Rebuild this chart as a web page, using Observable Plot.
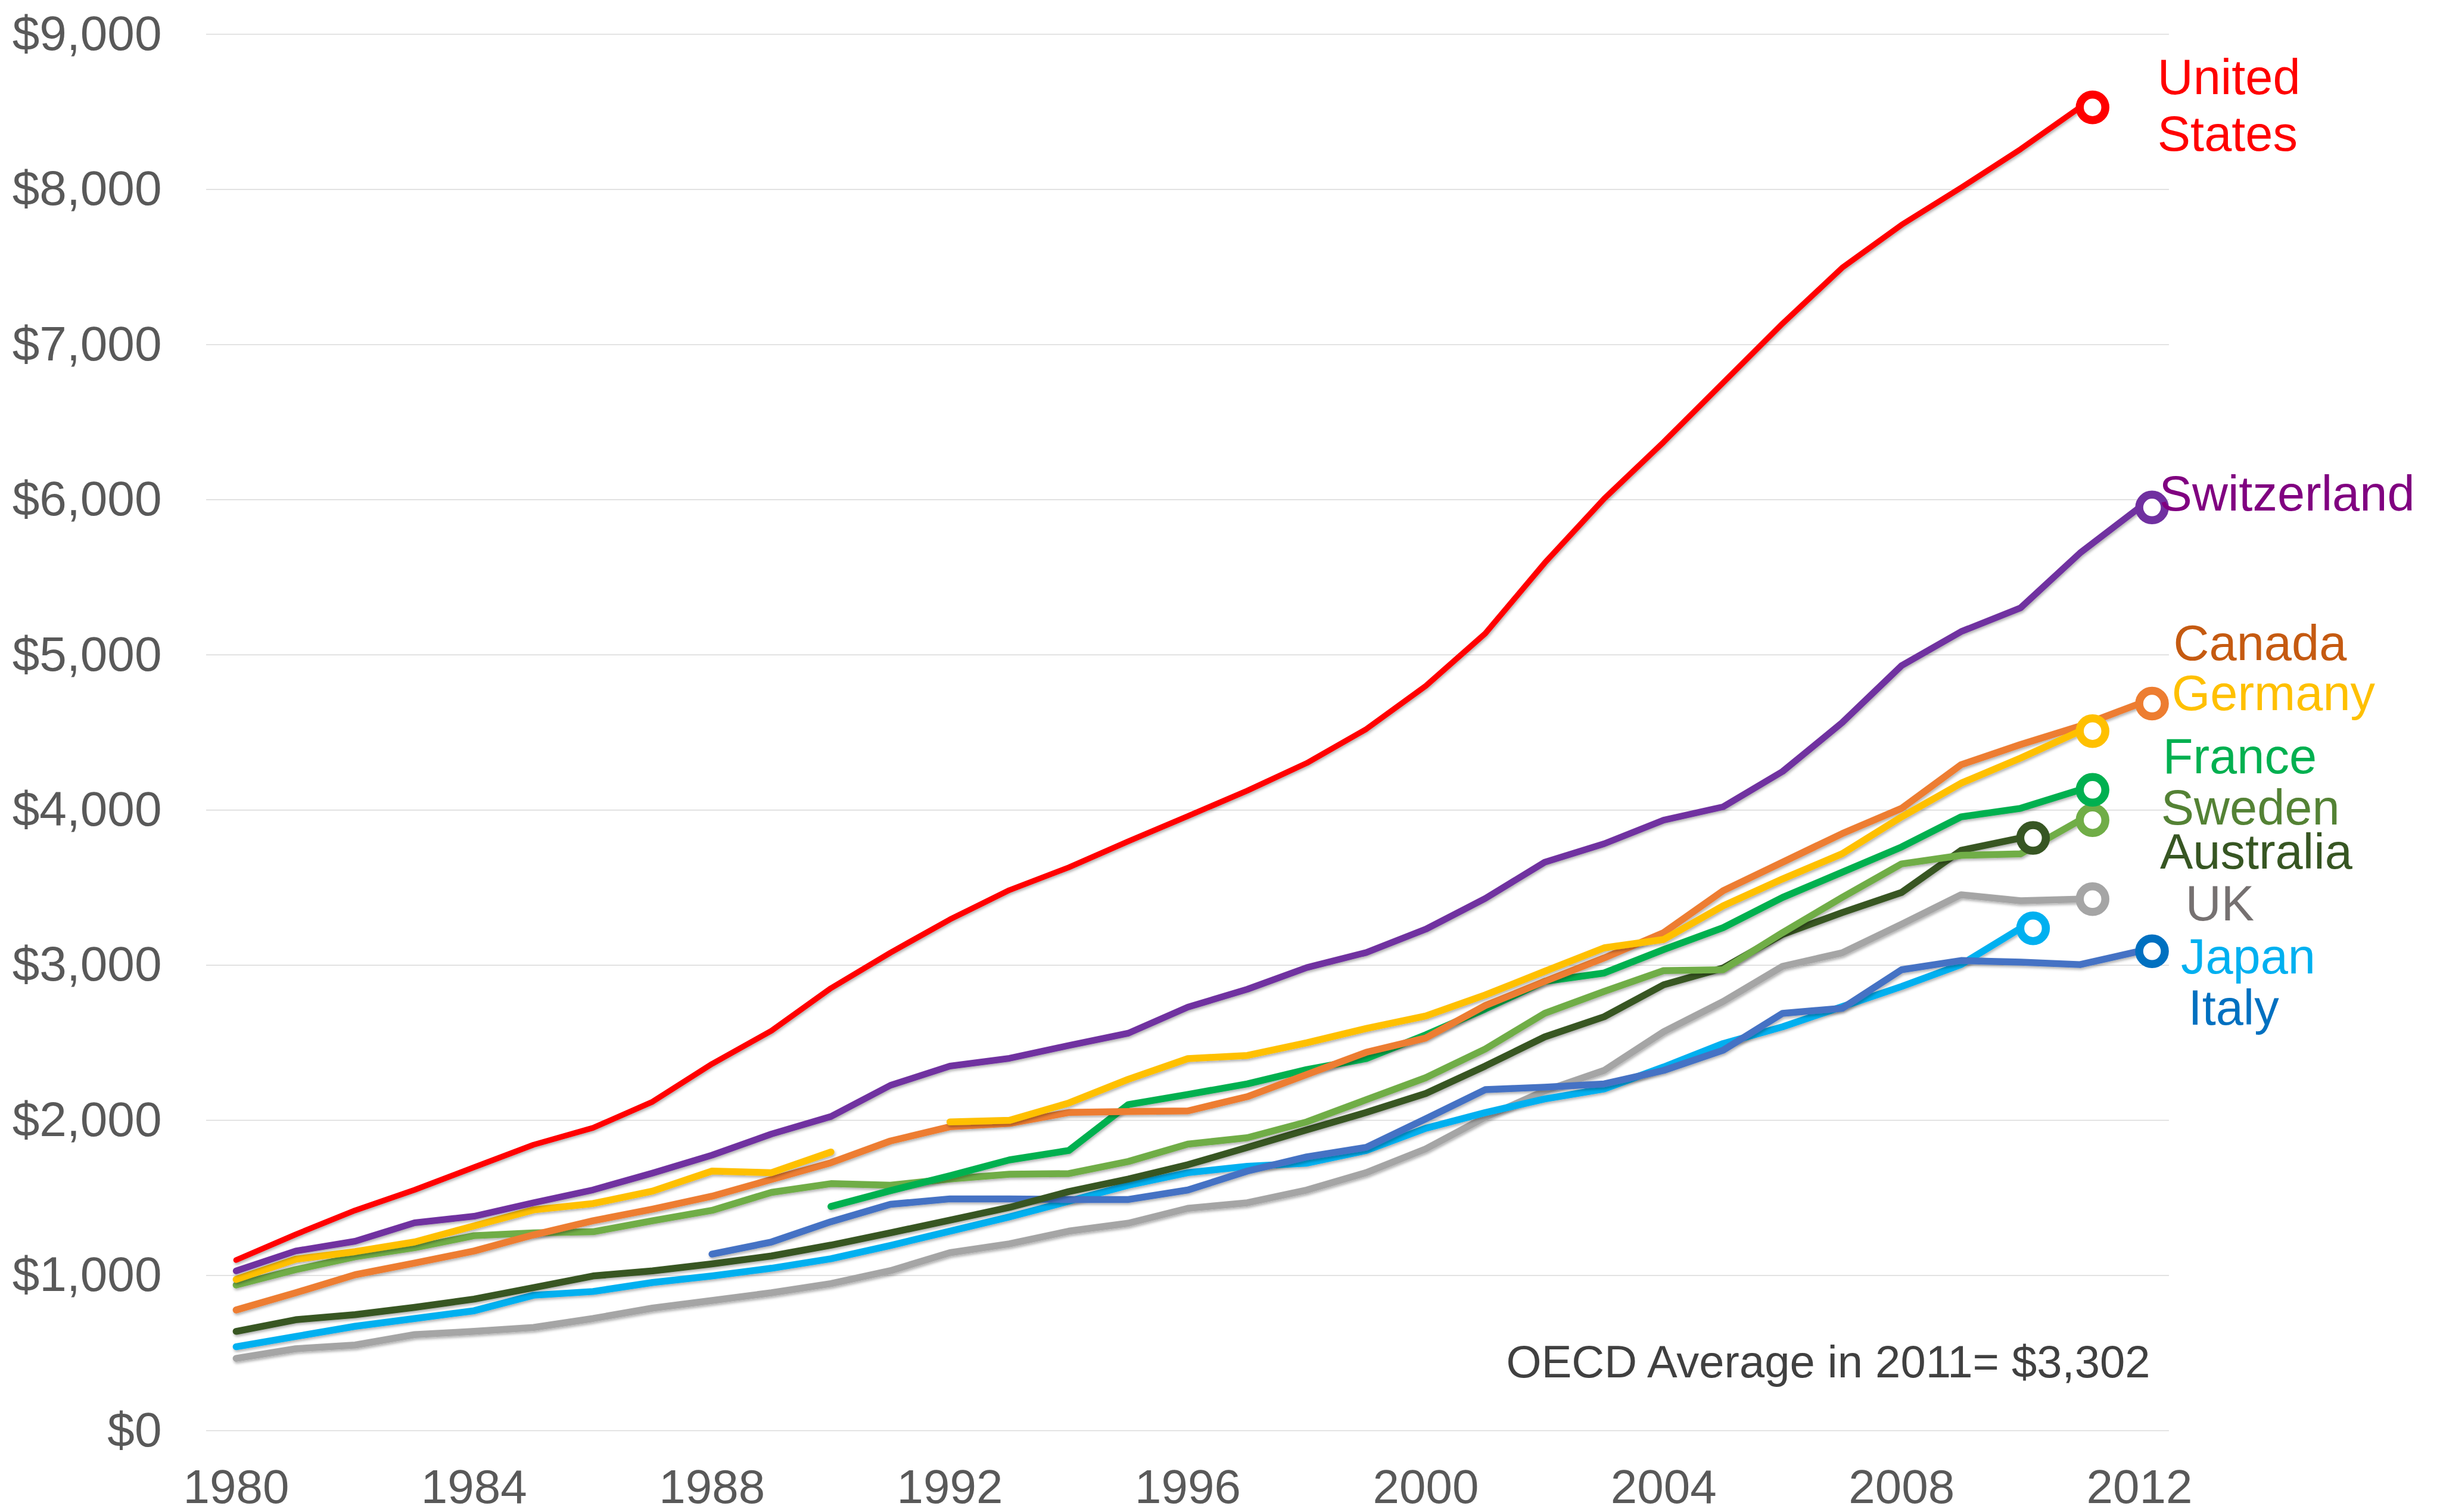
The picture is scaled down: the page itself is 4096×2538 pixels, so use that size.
<!DOCTYPE html>
<html>
<head>
<meta charset="utf-8">
<script src="https://cdn.jsdelivr.net/npm/d3@7"></script>
<script src="https://cdn.jsdelivr.net/npm/@observablehq/plot@0.6"></script>
<style>
html, body { margin: 0; padding: 0; background: #fff; }
svg { display: block; }
</style>
</head>
<body>
<div id="chart"></div>
<script>
// ---- Data (health spending per capita, US$) ----
const years = [1980,1981,1982,1983,1984,1985,1986,1987,1988,1989,
               1990,1991,1992,1993,1994,1995,1996,1997,1998,1999,
               2000,2001,2002,2003,2004,2005,2006,2007,2008,2009,
               2010,2011,2012];

const unitedStates = [1100,1265,1420,1552,1698,1843,1952,2120,2364,2578,
                      2852,3081,3295,3484,3631,3799,3961,4125,4303,4522,
                      4800,5138,5593,6007,6372,6754,7136,7495,7772,8011,
                      8259,8529,null];
const switzerland = [1030,1158,1221,1340,1382,1469,1552,1660,1776,1912,
                     2025,2226,2350,2400,2483,2562,2730,2845,2985,3082,
                     3232,3430,3664,3783,3935,4021,4249,4563,4931,5150,
                     5303,5657,5950];
const canada = [778,889,1005,1080,1158,1262,1353,1428,1511,1619,
                1727,1867,1959,1980,2051,2057,2061,2153,2296,2439,
                2531,2740,2896,3047,3210,3480,3664,3848,4011,4292,
                4422,4541,4686];
const germany = [975,1105,1154,1216,1320,1423,1464,1544,1673,1663,
                 1796,null,1990,2000,2112,2265,2398,2418,2500,2592,
                 2673,2808,2961,3112,3166,3383,3556,3718,3956,4173,
                 4335,4509,null];
const france = [null,null,null,null,null,null,null,null,null,null,
                1445,1547,1643,1745,1806,2102,2167,2235,2327,2398,
                2551,2718,2896,2950,3101,3242,3437,3599,3762,3956,
                4011,4130,null];
const sweden = [939,1038,1121,1179,1257,1275,1282,1353,1420,1536,
                1592,1582,1622,1653,1657,1735,1847,1888,1990,2133,
                2275,2460,2690,2831,2965,2971,3210,3437,3653,3708,
                3718,3935,null];
const australia = [640,715,748,795,848,922,997,1030,1075,1126,
                   1196,1275,1357,1439,1541,1622,1714,1826,1939,2051,
                   2173,2350,2538,2668,2874,2982,3199,3339,3469,3740,
                   3820,null,null];
const uk = [466,528,552,619,640,665,723,790,839,889,
            948,1031,1147,1204,1286,1337,1433,1469,1551,1663,
            1816,2020,2190,2322,2571,2766,2993,3080,3264,3454,
            3415,3426,null];
const japan = [541,607,673,723,773,873,897,955,997,1047,
               1108,1194,1286,1378,1479,1582,1663,1704,1724,1806,
               1949,2050,2138,2203,2344,2495,2603,2733,2863,3004,
               3238,null,null];
const italy = [null,null,null,null,null,null,null,null,1138,1216,
               1347,1459,1494,1494,1490,1490,1551,1673,1765,1826,
               2010,2198,2214,2235,2322,2452,2690,2722,2971,3030,
               3020,3004,3090];

const countries = ["United States","Switzerland","Canada","Germany","France",
                   "Sweden","Australia","UK","Japan","Italy"];
const labelTexts = ["United\nStates","Switzerland","Canada","Germany","France",
                    "Sweden","Australia","UK","Japan","Italy"];
const yTicks = [0,1000,2000,3000,4000,5000,6000,7000,8000,9000];
const xTicks = [1980,1984,1988,1992,1996,2000,2004,2008,2012];
const note = "OECD Average in 2011= $3,302";

const seriesValues = {
  "United States": unitedStates, "Switzerland": switzerland, "Canada": canada,
  "Germany": germany, "France": france, "Sweden": sweden, "Australia": australia,
  "UK": uk, "Japan": japan, "Italy": italy
};

// ---- Styles ----
const styles = {
  "United States": {line:"#FF0000", marker:"#FF0000", label:"#FF0000", dx:130, dy:73, w:9.5},
  "Switzerland":   {line:"#7030A0", marker:"#7030A0", label:"#800080", dx:33,  dy:5,  w:11},
  "Canada":        {line:"#ED7D31", marker:"#ED7D31", label:"#C55A11", dx:57,  dy:-73, w:11.5},
  "Germany":       {line:"#FFC000", marker:"#FFC000", label:"#FFC000", dx:154, dy:-35, w:11.5},
  "France":        {line:"#00B050", marker:"#00B050", label:"#00B050", dx:139, dy:-28, w:11.5},
  "Sweden":        {line:"#70AD47", marker:"#70AD47", label:"#548235", dx:136, dy:7,  w:11.5},
  "Australia":     {line:"#375623", marker:"#375623", label:"#375623", dx:234, dy:51, w:11.5},
  "UK":            {line:"#A5A5A5", marker:"#A5A5A5", label:"#767171", dx:177, dy:36, w:11.5},
  "Japan":         {line:"#00B0F0", marker:"#00B0F0", label:"#00B0F0", dx:269, dy:76, w:11.5},
  "Italy":         {line:"#4472C4", marker:"#0070C0", label:"#0070C0", dx:82,  dy:123, w:11.5}
};
const drawOrder = ["UK","Japan","Italy","Australia","Sweden","France","Canada","Germany","Switzerland","United States"];

const rows = countries.flatMap(c => years.map((year, i) => ({country: c, year, value: seriesValues[c][i]})));
const ends = countries.map((c, k) => {
  const v = seriesValues[c];
  let i = v.length - 1;
  while (v[i] == null) i--;
  return {country: c, year: years[i], value: v[i], text: labelTexts[k]};
});

const font = "'Liberation Sans', Arial, sans-serif";

const marks = [
  Plot.gridY(yTicks, {stroke: "#D9D9D9", strokeOpacity: 1, strokeWidth: 1.5}),
  Plot.axisY(yTicks, {tickSize: 0, tickPadding: 75, fontSize: 82, color: "#595959",
                      tickFormat: d => "$" + d3.format(",")(d), label: null}),
  Plot.axisX(xTicks, {tickSize: 0, tickPadding: 65, fontSize: 80, color: "#595959",
                      tickFormat: d => String(d), label: null}),
  ...drawOrder.map(c => Plot.line(rows.filter(r => r.country === c), {
    x: "year", y: "value", stroke: styles[c].line, strokeWidth: styles[c].w,
    strokeLinecap: "round", strokeLinejoin: "round"
  })),
  ...drawOrder.map(c => Plot.dot(ends.filter(e => e.country === c), {
    x: "year", y: "value", r: 21.5, dx: 21, stroke: styles[c].marker,
    fill: "white", strokeWidth: 13.5
  })),
  ...countries.map(c => Plot.text(ends.filter(e => e.country === c), {
    x: "year", y: "value", text: "text", dx: styles[c].dx, dy: styles[c].dy,
    textAnchor: "start", lineAnchor: "bottom", lineHeight: 1.15,
    fontSize: 83, fill: styles[c].label
  })),
  Plot.text([note], {frameAnchor: "bottom-right", textAnchor: "end", lineAnchor: "bottom",
                     dx: -32, dy: -90, fontSize: 76, fill: "#404040"})
];

const chart = Plot.plot({
  width: 4096,
  height: 2538,
  marginLeft: 346,
  marginRight: 455,
  marginTop: 57,
  marginBottom: 137,
  x: {domain: [1979.5, 2012.5]},
  y: {domain: [0, 9000]},
  style: {fontFamily: font, background: "white", overflow: "visible"},
  marks
});

// subtle drop shadow under the lines and markers
const ns = "http://www.w3.org/2000/svg";
const defs = document.createElementNS(ns, "defs");
const filter = document.createElementNS(ns, "filter");
filter.setAttribute("id", "shadow");
filter.setAttribute("x", "-10%"); filter.setAttribute("y", "-10%");
filter.setAttribute("width", "120%"); filter.setAttribute("height", "120%");
const ds = document.createElementNS(ns, "feDropShadow");
ds.setAttribute("dx", "1.5"); ds.setAttribute("dy", "3");
ds.setAttribute("stdDeviation", "2");
ds.setAttribute("flood-color", "#000"); ds.setAttribute("flood-opacity", "0.3");
filter.appendChild(ds);
defs.appendChild(filter);
chart.insertBefore(defs, chart.firstChild);
chart.querySelectorAll('g[aria-label="line"] path').forEach(p => p.setAttribute("filter", "url(#shadow)"));

document.getElementById("chart").appendChild(chart);
</script>
</body>
</html>
